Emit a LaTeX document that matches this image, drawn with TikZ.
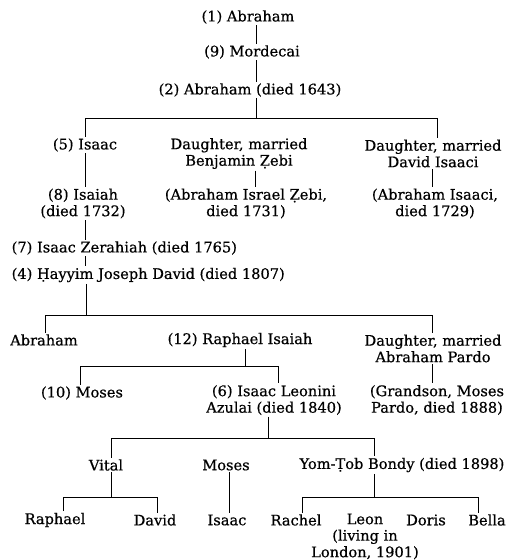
\documentclass[tikz,border=0pt]{standalone}
\usepackage{fontspec}
\setmainfont{DejaVu Serif}[FakeBold=0.6]

\begin{document}
\begin{tikzpicture}[x=1pt, y=-1pt,
  every node/.style={font=\fontsize{14.6}{16.5}\selectfont, inner sep=1.5pt, align=center},
  line/.style={line width=0.8pt}]
  \useasboundingbox (0,0) rectangle (508,560);
  % people
  \node (abrA) at (248,17) {(1) Abraham};
  \node (mord) at (252,52) {(9) Mordecai};
  \node (abrB) at (250,90) {(2) Abraham (died 1643)};
  \node (isaacA) at (85,145) {(5) Isaac};
  \node (dauA) at (239,153.5) {Daughter, married\\Benjamin Ẓebi};
  \node (dauB) at (433,153.5) {Daughter, married\\David Isaaci};
  \node (isaiah) at (83,203.5) {(8) Isaiah\\(died 1732)};
  \node (zebi) at (246,203.5) {(Abraham Israel Ẓebi,\\died 1731)};
  \node (isaaci) at (435,203.5) {(Abraham Isaaci,\\died 1729)};
  \node[anchor=west] (zerah) at (10,248) {(7) Isaac Zerahiah (died 1765)};
  \node[anchor=west] (hayyim) at (10,275) {(4) Ḥayyim Joseph David (died 1807)};
  \node (abrC) at (44,340) {Abraham};
  \node (raph) at (240,340) {(12) Raphael Isaiah};
  \node (dauC) at (433,348.5) {Daughter, married\\Abraham Pardo};
  \node (mosesA) at (82,393) {(10) Moses};
  \node (azulai) at (274,400) {(6) Isaac Leonini\\Azulai (died 1840)};
  \node (grandson) at (437,400) {(Grandson, Moses\\Pardo, died 1888)};
  \node (vital) at (106,465) {Vital};
  \node (mosesB) at (226,465) {Moses};
  \node (yomtob) at (402,465) {Yom-Ṭob Bondy (died 1898)};
  \node (raphael) at (55,520) {Raphael};
  \node (david) at (155,520) {David};
  \node (isaacB) at (227,520) {Isaac};
  \node (rachel) at (296,520) {Rachel};
  \node (leon) at (365,536.5) {Leon\\(living in\\London, 1901)};
  \node (doris) at (426,520) {Doris};
  \node (bella) at (487,520) {Bella};

  % stems and bars
  \coordinate (s1) at (256,0);
  \coordinate (b1l) at (85,118);
  \coordinate (b1r) at (437,118);
  \coordinate (s2) at (255,0);
  \coordinate (s3) at (432,0);
  \coordinate (b2l) at (45,315);
  \coordinate (b2r) at (432,315);
  \coordinate (s4) at (86,0);
  \coordinate (s5) at (245,0);
  \coordinate (b3l) at (80,366);
  \coordinate (b3r) at (278,366);
  \coordinate (s6) at (268,0);
  \coordinate (b4l) at (111,438);
  \coordinate (b4r) at (374,438);
  \coordinate (b5l) at (63,497);
  \coordinate (b5r) at (157,497);
  \coordinate (s7) at (229,0);
  \coordinate (b6l) at (302,497);
  \coordinate (b6r) at (478,497);

  \draw[line] (abrA.south -| s1) -- (mord.north -| s1);
  \draw[line] (mord.south -| s1) -- (abrB.north -| s1);
  \draw[line] (abrB.south -| s1) -- (s1 |- b1l);
  \draw[line] (isaacA.north -| b1l) -- (b1l) -- (b1r) -- (dauB.north -| b1r);
  \draw[line] (isaacA.south -| b1l) -- (isaiah.north -| b1l);
  \draw[line] (dauA.south -| s2) -- (zebi.north -| s2);
  \draw[line] (dauB.south -| s3) -- (isaaci.north -| s3);
  \draw[line] (isaiah.south -| b1l) -- (zerah.north -| b1l);
  \draw[line] (zerah.south -| b1l) -- (hayyim.north -| b1l);
  \draw[line] (hayyim.south -| s4) -- (s4 |- b2l);
  \draw[line] (abrC.north -| b2l) -- (b2l) -- (b2r) -- (dauC.north -| b2r);
  \draw[line] (raph.south -| s5) -- (s5 |- b3l);
  \draw[line] (mosesA.north -| b3l) -- (b3l) -- (b3r) -- (azulai.north -| b3r);
  \draw[line] (dauC.south -| b2r) -- (grandson.north -| b2r);
  \draw[line] (azulai.south -| s6) -- (s6 |- b4l);
  \draw[line] (vital.north -| b4l) -- (b4l) -- (b4r) -- (yomtob.north -| b4r);
  \draw[line] (vital.south -| b4l) -- (b4l |- b5l);
  \draw[line] (raphael.north -| b5l) -- (b5l) -- (b5r) -- (david.north -| b5r);
  \draw[line] (mosesB.south -| s7) -- (isaacB.north -| s7);
  \draw[line] (yomtob.south -| b4r) -- (b4r |- b6l);
  \draw[line] (rachel.north -| b6l) -- (b6l) -- (b6r) -- (bella.north -| b6r);
\end{tikzpicture}
\end{document}
